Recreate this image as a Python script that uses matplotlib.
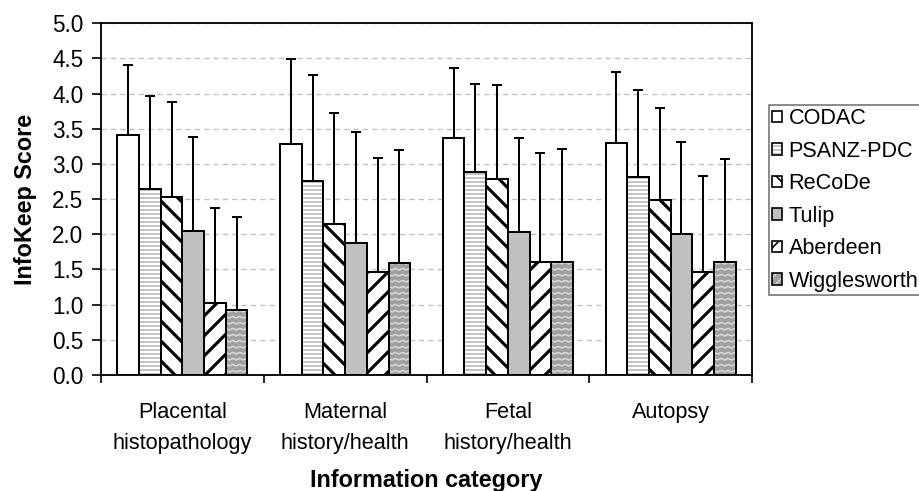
import matplotlib
matplotlib.use('Agg')
import matplotlib.pyplot as plt
import numpy as np
from matplotlib.patches import Patch
from matplotlib.legend_handler import HandlerTuple

# ---------------- data ----------------
categories = ["Placental\nhistopathology", "Maternal\nhistory/health",
              "Fetal\nhistory/health", "Autopsy"]
series = ["CODAC", "PSANZ-PDC", "ReCoDe", "Tulip", "Aberdeen", "Wigglesworth"]

codac = [3.41, 3.28, 3.37, 3.30]
codac_sd = [1.00, 1.21, 1.00, 1.01]
psanz = [2.65, 2.76, 2.88, 2.82]
psanz_sd = [1.31, 1.50, 1.25, 1.23]
recode = [2.53, 2.15, 2.79, 2.49]
recode_sd = [1.35, 1.58, 1.33, 1.30]
tulip = [2.05, 1.88, 2.03, 2.00]
tulip_sd = [1.34, 1.58, 1.34, 1.31]
aberdeen = [1.03, 1.46, 1.61, 1.46]
aberdeen_sd = [1.35, 1.62, 1.55, 1.37]
wiggles = [0.93, 1.59, 1.61, 1.61]
wiggles_sd = [1.32, 1.61, 1.61, 1.46]

yticks = [0.0, 0.5, 1.0, 1.5, 2.0, 2.5, 3.0, 3.5, 4.0, 4.5, 5.0]

means = [codac, psanz, recode, tulip, aberdeen, wiggles]
sds = [codac_sd, psanz_sd, recode_sd, tulip_sd, aberdeen_sd, wiggles_sd]

# ---------------- style ----------------
plt.rcParams['font.family'] = ['Liberation Sans', 'DejaVu Sans']
DPI = 120
W, H = 919, 491
FS = 13
fig = plt.figure(figsize=(W / DPI, H / DPI), dpi=DPI)
ax = fig.add_axes([101 / W, 1 - 375 / H, 651 / W, 351.7 / H])

# (face, hatch, hatch colour, hatch linewidth)
styles = [
    ('white', None, 'black', 1.0),
    ('white', '-----', '#BDBDBD', 1.1),
    ('white', '\\\\', 'black', 1.9),
    ('#C0C0C0', None, 'black', 1.0),
    ('white', '//', 'black', 1.9),
    ('#A0A0A0', None, 'black', 1.0),
]

x = np.arange(len(categories))
n = len(series)
width = 0.8 / n

ax.set_xlim(-0.5, len(categories) - 0.5)
ax.set_ylim(0, 5)

legend_handles = []
for i, (name, vals, sd) in enumerate(zip(series, means, sds)):
    face, hatch, hcol, hlw = styles[i]
    pos = x + (i - (n - 1) / 2) * width
    with plt.rc_context({'hatch.linewidth': hlw}):
        fill = ax.bar(pos, vals, width, color=face, edgecolor=hcol,
                      linewidth=0, hatch=hatch, zorder=2)
        for p in fill:
            if hasattr(p, 'set_hatch_linewidth'):
                p.set_hatch_linewidth(hlw)
        lhatch = hatch
        if name == "Wigglesworth":
            lhatch = '////'
            hcol = '#D0D0D0'
        lp = Patch(facecolor=face, edgecolor=hcol, linewidth=0, hatch=lhatch)
        if hasattr(lp, 'set_hatch_linewidth'):
            lp.set_hatch_linewidth(hlw * 0.7)
    ax.bar(pos, vals, width, fill=False, edgecolor='black', linewidth=1.2, zorder=3)
    ax.errorbar(pos, vals, yerr=[np.zeros(len(vals)), sd], fmt='none',
                ecolor='black', elinewidth=1.2, capsize=3.2, capthick=1.2, zorder=4)
    lp2 = Patch(facecolor='none', edgecolor='black', linewidth=1.0)
    legend_handles.append((lp, lp2))

    if name == "Wigglesworth":
        # zig-zag texture clipped to each bar
        pxx = 651 / 4.0   # px per x unit
        pxy = 351.7 / 5.0  # px per y unit
        dx = 3.5 / pxx
        amp = 1.6 / pxy
        step = 6.0 / pxy
        for p in fill:
            x0, w, h = p.get_x(), p.get_width(), p.get_height()
            xs = np.arange(x0 - dx, x0 + w + 2 * dx, dx)
            zz = np.where(np.arange(len(xs)) % 2 == 0, 0, amp)
            for yy in np.arange(step / 2, h + step, step):
                ln, = ax.plot(xs, yy + zz, color='#DADADA', lw=0.9, zorder=2.5)
                ln.set_clip_path(p)

# grid
ax.set_yticks(yticks)
ax.set_yticklabels([f"{v:.1f}" for v in yticks])
ax.yaxis.grid(True, color='#C0C0C0', linestyle=(0, (4, 3)), linewidth=0.8)
ax.set_axisbelow(True)

# x axis ticks: labels at centres, marks at boundaries
ax.set_xticks(x)
ax.set_xticklabels(categories, fontsize=FS, linespacing=1.62)
ax.set_xticks(np.arange(-0.5, len(categories), 1.0), minor=True)
ax.tick_params(axis='x', which='major', length=0, pad=16)
ax.tick_params(axis='x', which='minor', length=4.8, width=1, direction='out')
ax.tick_params(axis='y', length=5.5, width=1, direction='out', labelsize=13.5, pad=5)

for s in ax.spines.values():
    s.set_color('black')
    s.set_linewidth(1.1)

ax.set_ylabel("InfoKeep Score", fontsize=14, fontweight='bold', labelpad=9)
ax.set_xlabel("Information category", fontsize=14, fontweight='bold', labelpad=9)

leg = fig.legend(legend_handles, series,
                 handler_map={tuple: HandlerTuple(ndivide=1)},
                 loc='upper left', bbox_to_anchor=(769 / W, 1 - 105 / H),
                 fontsize=FS, frameon=True, fancybox=False,
                 handlelength=0.45, handleheight=0.45, handletextpad=0.3,
                 labelspacing=0.53, borderpad=0.15, borderaxespad=0)
leg.get_frame().set_edgecolor('#555555')
leg.get_frame().set_linewidth(1.0)

fig.savefig('out.png', dpi=DPI)
